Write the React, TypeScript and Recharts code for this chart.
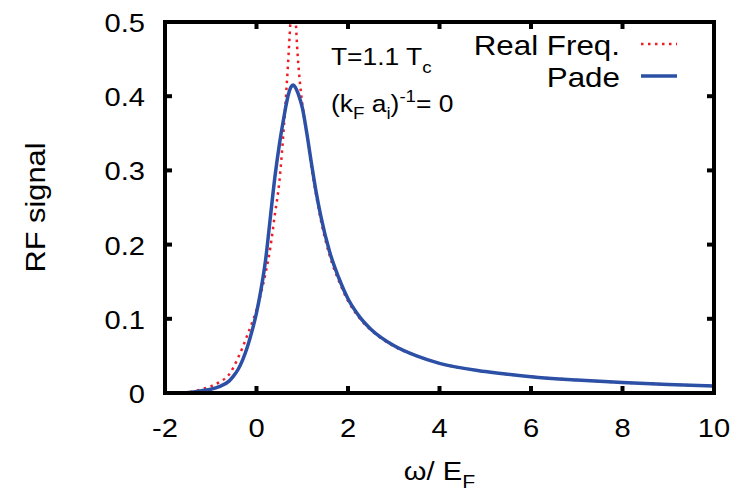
import React from "react"
import {
  LineChart,
  Line,
  XAxis,
  YAxis,
  Legend,
} from "recharts"

// ω / E_F grid and the two RF spectra
const omega = [
  -1.6, -1.4, -1.2, -1.0, -0.8, -0.6, -0.5, -0.4, -0.3, -0.2, -0.1, 0, 0.1,
  0.2, 0.3, 0.4, 0.5, 0.6, 0.65, 0.7, 0.75, 0.8, 0.85, 0.9, 0.95, 1.0, 1.1,
  1.2, 1.3, 1.4, 1.6, 1.8, 2.0, 2.25, 2.5, 3.0, 3.5, 4, 5, 6, 7, 8, 9, 10,
]

const realFreq = [
  0, 0.002, 0.005, 0.009, 0.015, 0.025, 0.035, 0.048, 0.062, 0.078, 0.094,
  0.112, 0.135, 0.162, 0.195, 0.24, 0.285, 0.36, 0.405, 0.455, 0.51, 0.56,
  0.51, 0.455, 0.418, 0.39, 0.348, 0.305, 0.268, 0.235, 0.185, 0.151, 0.124,
  0.101, 0.085, 0.063, 0.05, 0.04, 0.029, 0.022, 0.0175, 0.014, 0.0115,
  0.0095,
]

const pade = [
  0, 0.001, 0.003, 0.005, 0.009, 0.016, 0.023, 0.032, 0.045, 0.062, 0.083,
  0.108, 0.14, 0.18, 0.235, 0.29, 0.335, 0.372, 0.389, 0.403, 0.412, 0.415,
  0.412, 0.405, 0.396, 0.385, 0.35, 0.31, 0.272, 0.24, 0.19, 0.155, 0.127,
  0.103, 0.086, 0.064, 0.05, 0.04, 0.029, 0.022, 0.0175, 0.014, 0.0115,
  0.0095,
]

const xTicks = [-2, 0, 2, 4, 6, 8, 10]
const yTicks = [0, 0.1, 0.2, 0.3, 0.4, 0.5]

const data = omega.map((w, i) => ({ w, real: realFreq[i], pade: pade[i] }))

const FONT = "'Liberation Sans', Arial, Helvetica, sans-serif"
const RED = "#ee1c25"
const BLUE = "#2c50a6"
const STRETCH = 1.12
const TICK_LEN = 7

const frame = { stroke: "#000", strokeWidth: 4, strokeLinecap: "square" as const }

const BottomTick = (props: any) => {
  const { x, y, payload } = props
  return (
    <g>
      <line x1={x} x2={x} y1={y} y2={y - TICK_LEN} stroke="#000" strokeWidth={4} />
      <text
        transform={`translate(${x},${y + 44}) scale(${STRETCH},1)`}
        textAnchor="middle"
        fontFamily={FONT}
        fontSize={26}
        fill="#000"
      >
        {payload.value}
      </text>
    </g>
  )
}

const LeftTick = (props: any) => {
  const { x, y, payload } = props
  return (
    <g>
      <line x1={x} x2={x + TICK_LEN} y1={y} y2={y} stroke="#000" strokeWidth={4} />
      <text
        transform={`translate(${x - 20},${y + 10}) scale(${STRETCH},1)`}
        textAnchor="end"
        fontFamily={FONT}
        fontSize={26}
        fill="#000"
      >
        {payload.value}
      </text>
    </g>
  )
}

const TopTick = (props: any) => {
  const { x, y } = props
  return <line x1={x} x2={x} y1={y} y2={y + TICK_LEN} stroke="#000" strokeWidth={4} />
}

const RightTick = (props: any) => {
  const { x, y } = props
  return <line x1={x} x2={x - TICK_LEN} y1={y} y2={y} stroke="#000" strokeWidth={4} />
}

const XLabel = (props: any) => {
  const { viewBox } = props
  const cx = viewBox.x + viewBox.width / 2
  return (
    <text
      transform={`translate(${cx},${viewBox.y + 87}) scale(${STRETCH},1)`}
      textAnchor="middle"
      fontFamily={FONT}
      fontSize={26}
      fill="#000"
    >
      <tspan>ω/ E</tspan>
      <tspan fontSize={19} dy={8}>F</tspan>
    </text>
  )
}

const YLabel = (props: any) => {
  const { viewBox } = props
  const cy = viewBox.y + viewBox.height / 2
  return (
    <text
      transform={`translate(45,${cy}) rotate(-90) scale(1.1,1)`}
      textAnchor="middle"
      fontFamily={FONT}
      fontSize={28}
      fill="#000"
    >
      RF signal
    </text>
  )
}

const legendOrder = ["real", "pade"]
const seriesStyle: Record<string, { color: string; dash?: string; width: number }> = {
  real: { color: RED, dash: "2.5 4.5", width: 2.5 },
  pade: { color: BLUE, width: 3.5 },
}

const LegendBox = (props: any) => {
  const payload = [...(props.payload ?? [])].sort(
    (a: any, b: any) => legendOrder.indexOf(a.dataKey) - legendOrder.indexOf(b.dataKey)
  )
  return (
    <svg width={740} height={130} style={{ display: "block" }}>
      {payload.map((entry: any, i: number) => {
        const s = seriesStyle[entry.dataKey] ?? { color: entry.color, width: 3 }
        const base = 55 + i * 32
        return (
          <g key={entry.dataKey}>
            <text
              transform={`translate(620,${base}) scale(${STRETCH},1)`}
              textAnchor="end"
              fontFamily={FONT}
              fontSize={28}
              fill="#000"
            >
              {entry.value}
            </text>
            <line
              x1={641}
              x2={677}
              y1={base - 11}
              y2={base - 11}
              stroke={s.color}
              strokeWidth={s.width}
              strokeDasharray={s.dash}
            />
          </g>
        )
      })}
      <text
        transform={`translate(331,65) scale(1.1,1)`}
        fontFamily={FONT}
        fontSize={24}
        fill="#000"
      >
        <tspan>T=1.1 T</tspan>
        <tspan fontSize={17} dy={8}>c</tspan>
      </text>
      <text
        transform={`translate(331,112) scale(1.1,1)`}
        fontFamily={FONT}
        fontSize={24}
        fill="#000"
      >
        <tspan>(k</tspan>
        <tspan fontSize={17} dy={7}>F</tspan>
        <tspan dy={-7}> a</tspan>
        <tspan fontSize={17} dy={7}>i</tspan>
        <tspan dy={-7}>)</tspan>
        <tspan fontSize={17} dy={-10}>-1</tspan>
        <tspan dy={10}>= 0</tspan>
      </text>
    </svg>
  )
}

export default function App() {
  return (
    <div style={{ position: "absolute", left: 0, top: 0, width: 740, height: 491, background: "#fff" }}>
      <LineChart
        width={740}
        height={491}
        data={data}
        margin={{ top: 21, right: 25, bottom: 0, left: 0 }}
      >
        <XAxis
          xAxisId="x"
          dataKey="w"
          type="number"
          domain={[-2, 10]}
          ticks={xTicks}
          interval={0}
          height={98}
          tickSize={0}
          tickMargin={0}
          tickLine={false}
          axisLine={frame}
          tick={BottomTick}
          label={XLabel}
        />
        <XAxis
          xAxisId="xt"
          orientation="top"
          dataKey="w"
          type="number"
          domain={[-2, 10]}
          ticks={xTicks}
          interval={0}
          height={1}
          tickSize={0}
          tickMargin={0}
          tickLine={false}
          axisLine={frame}
          tick={TopTick}
        />
        <YAxis
          yAxisId="y"
          type="number"
          domain={[0, 0.5]}
          ticks={yTicks}
          interval={0}
          allowDataOverflow
          width={165}
          tickSize={0}
          tickMargin={0}
          tickLine={false}
          axisLine={frame}
          tick={LeftTick}
          label={YLabel}
        />
        <YAxis
          yAxisId="yr"
          orientation="right"
          type="number"
          domain={[0, 0.5]}
          ticks={yTicks}
          interval={0}
          allowDataOverflow
          width={1}
          tickSize={0}
          tickMargin={0}
          tickLine={false}
          axisLine={frame}
          tick={RightTick}
        />
        <Legend
          layout="horizontal"
          verticalAlign="middle"
          align="center"
          content={LegendBox}
          wrapperStyle={{ top: 0, left: 0, width: 740, height: 130, pointerEvents: "none" }}
        />
        <Line
          xAxisId="x"
          yAxisId="y"
          dataKey="real"
          name="Real Freq."
          type="monotone"
          stroke={RED}
          strokeWidth={2.5}
          strokeDasharray="2.5 4.5"
          dot={false}
          activeDot={false}
          isAnimationActive={false}
        />
        <Line
          xAxisId="x"
          yAxisId="y"
          dataKey="pade"
          name="Pade"
          type="monotone"
          stroke={BLUE}
          strokeWidth={3.5}
          dot={false}
          activeDot={false}
          isAnimationActive={false}
        />
      </LineChart>
    </div>
  )
}
